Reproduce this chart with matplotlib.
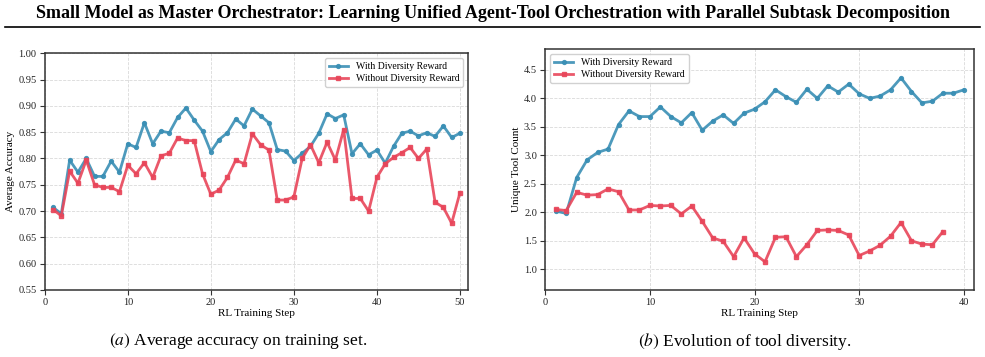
import matplotlib
matplotlib.use("Agg")
import matplotlib.pyplot as plt
from matplotlib.lines import Line2D

plt.rcParams['font.family'] = ['Liberation Serif', 'DejaVu Serif']
plt.rcParams['mathtext.fontset'] = 'stix'

title = "Small Model as Master Orchestrator: Learning Unified Agent-Tool Orchestration with Parallel Subtask Decomposition"
series_labels = ["With Diversity Reward", "Without Diversity Reward"]

# (a) Average accuracy
acc_steps = list(range(1, 51))
acc_with = [0.707, 0.695, 0.797, 0.774, 0.800, 0.766, 0.766, 0.795, 0.774, 0.828,
            0.821, 0.868, 0.828, 0.852, 0.849, 0.878, 0.896, 0.873, 0.852, 0.813,
            0.836, 0.849, 0.875, 0.862, 0.894, 0.881, 0.868, 0.817, 0.814, 0.796,
            0.810, 0.823, 0.848, 0.885, 0.876, 0.883, 0.809, 0.828, 0.807, 0.816,
            0.791, 0.823, 0.848, 0.852, 0.843, 0.849, 0.842, 0.862, 0.840, 0.848]
acc_without = [0.703, 0.691, 0.776, 0.753, 0.797, 0.750, 0.745, 0.745, 0.737, 0.787,
               0.771, 0.792, 0.764, 0.805, 0.810, 0.839, 0.834, 0.834, 0.771, 0.732,
               0.740, 0.764, 0.797, 0.790, 0.847, 0.826, 0.816, 0.721, 0.721, 0.727,
               0.800, 0.826, 0.792, 0.831, 0.797, 0.855, 0.724, 0.724, 0.700, 0.764,
               0.790, 0.802, 0.811, 0.821, 0.800, 0.818, 0.717, 0.707, 0.677, 0.735]

# (b) Unique tool count
tool_steps_with = list(range(1, 41))
tool_with = [2.02, 1.98, 2.61, 2.92, 3.05, 3.11, 3.54, 3.78, 3.68, 3.68,
             3.85, 3.68, 3.57, 3.75, 3.44, 3.60, 3.71, 3.56, 3.74, 3.81,
             3.94, 4.15, 4.03, 3.93, 4.16, 4.00, 4.22, 4.11, 4.25, 4.08,
             4.00, 4.04, 4.15, 4.36, 4.12, 3.92, 3.95, 4.09, 4.09, 4.15]
tool_steps_without = list(range(1, 39))
tool_without = [2.05, 2.03, 2.35, 2.30, 2.31, 2.41, 2.36, 2.04, 2.04, 2.12,
                2.11, 2.12, 1.97, 2.11, 1.84, 1.55, 1.49, 1.22, 1.55, 1.27,
                1.13, 1.56, 1.57, 1.22, 1.43, 1.68, 1.69, 1.68, 1.60, 1.24,
                1.32, 1.42, 1.58, 1.82, 1.50, 1.44, 1.43, 1.66]

acc_yticks = [0.55, 0.60, 0.65, 0.70, 0.75, 0.80, 0.85, 0.90, 0.95, 1.00]
tool_yticks = [1.0, 1.5, 2.0, 2.5, 3.0, 3.5, 4.0, 4.5]

BLUE = "#3a8fb5"
RED = "#e8465a"

fig = plt.figure(figsize=(9.85, 3.57), dpi=100)

ax1 = fig.add_axes([0.0454, 0.1877, 0.430, 0.663])
ax2 = fig.add_axes([0.5536, 0.1877, 0.4355, 0.674])

def style(ax):
    ax.grid(True, linestyle='--', color='#d0d0d0', linewidth=0.6, alpha=0.8)
    ax.set_axisbelow(True)
    for s in ax.spines.values():
        s.set_color('#333333')
        s.set_linewidth(1.1)
    ax.tick_params(labelsize=7.5, length=3.5, width=0.8, colors='#333333', pad=2.5)
    for lbl in ax.get_xticklabels() + ax.get_yticklabels():
        lbl.set_color('#222222')

kw_b = dict(color=BLUE, marker='o', markersize=2.8, linewidth=2.0, alpha=0.9)
kw_r = dict(color=RED, marker='s', markersize=2.8, linewidth=2.0, alpha=0.9)

leg_kw = dict(fontsize=7, frameon=True, framealpha=0.9, edgecolor='#cccccc',
              fancybox=True, handlelength=2.0, borderpad=0.4, labelspacing=0.3)

ax1.plot(acc_steps, acc_with, label=series_labels[0], **kw_b)
ax1.plot(acc_steps, acc_without, label=series_labels[1], **kw_r)
ax1.set_xlim(0, 51)
ax1.set_ylim(0.55, 1.00)
ax1.set_yticks(acc_yticks)
ax1.set_xticks([0, 10, 20, 30, 40, 50])
ax1.set_xlabel("RL Training Step", fontsize=8, labelpad=1)
ax1.set_ylabel("Average Accuracy", fontsize=8, labelpad=2)
style(ax1)
ax1.legend(loc='upper right', **leg_kw)

ax2.plot(tool_steps_with, tool_with, label=series_labels[0], **kw_b)
ax2.plot(tool_steps_without, tool_without, label=series_labels[1], **kw_r)
ax2.set_xlim(0, 41)
ax2.set_ylim(0.635, 4.86)
ax2.set_yticks(tool_yticks)
ax2.set_xticks([0, 10, 20, 30, 40])
ax2.set_xlabel("RL Training Step", fontsize=8, labelpad=1)
ax2.set_ylabel("Unique Tool Count", fontsize=8, labelpad=2)
style(ax2)
ax2.legend(loc='upper left', **leg_kw)

fig.text(0.5, 1 - 13 / 357, title, ha='center', va='center',
         fontsize=13, fontweight='bold')
fig.add_artist(Line2D([5 / 985, 980 / 985], [1 - 27 / 357, 1 - 27 / 357],
                      color='black', linewidth=1.2, transform=fig.transFigure))

fig.text(238 / 985, 1 - 341 / 357, r"$\it{(a)}$ Average accuracy on training set.",
         ha='center', va='center', fontsize=12.5)
fig.text(745 / 985, 1 - 341 / 357, r"$\it{(b)}$ Evolution of tool diversity.",
         ha='center', va='center', fontsize=12.5)

fig.savefig("out.png", dpi=100)
